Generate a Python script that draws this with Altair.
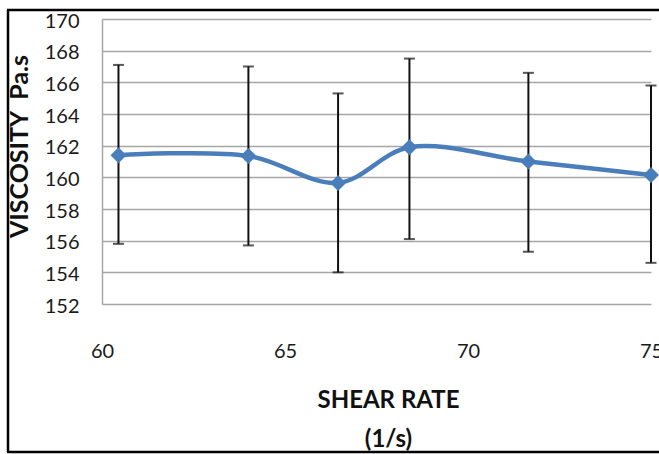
import altair as alt
import pandas as pd

# Data
shear_rate = [60.45, 64.0, 66.45, 68.4, 71.65, 75.0]
viscosity = [161.4, 161.35, 159.65, 161.9, 161.0, 160.15]
err_upper = [167.1, 167.0, 165.3, 167.5, 166.6, 165.8]
err_lower = [155.8, 155.7, 154.0, 156.1, 155.3, 154.6]
y_ticks = [152, 154, 156, 158, 160, 162, 164, 166, 168, 170]
x_ticks = [60, 65, 70, 75]

df = pd.DataFrame({
    "shear": shear_rate,
    "visc": viscosity,
    "upper": err_upper,
    "lower": err_lower,
})

FONT = "Lato"
BLUE = "#4A7EBB"
GRID = "#A6A6A6"

x_scale = alt.Scale(domain=[60, 75], nice=False, zero=False)
y_scale = alt.Scale(domain=[152, 170], nice=False, zero=False)

x_axis = alt.Axis(
    values=x_ticks, title=["SHEAR RATE", "(1/s)"], grid=False, domain=False,
    ticks=False, tickSize=0, labelPadding=37, labelFlush=False,
    labelFont=FONT, labelFontSize=20, labelColor="#1a1a1a",
    titleFont=FONT, titleFontSize=24, titleFontWeight="bold", titleColor="#111111",
    titleX=286, titleY=103, titleBaseline="alphabetic", titleAlign="center",
    titleLineHeight=39,
)
y_axis = alt.Axis(
    values=y_ticks, title="VISCOSITY\u00a0\u00a0Pa.s", grid=True, gridColor=GRID,
    gridWidth=1.5, domain=True, domainColor=GRID, domainWidth=1.5,
    ticks=False, tickSize=0, labelPadding=23, labelOffset=2,
    labelFont=FONT, labelFontSize=20, labelColor="#1a1a1a",
    titleFont=FONT, titleFontSize=25, titleFontWeight="bold", titleColor="#111111",
    titleX=-75, titleY=127, titleAngle=270, titleBaseline="alphabetic",
    titleAlign="center",
)

X = alt.X("shear:Q", scale=x_scale, axis=x_axis)
Y = alt.Y("visc:Q", scale=y_scale, axis=y_axis)

base = alt.Chart(df)

line = base.mark_line(color=BLUE, strokeWidth=4.5, interpolate="catmull-rom").encode(x=X, y=Y)

err_rule = base.mark_rule(color="#111111", strokeWidth=2).encode(
    x=X, y=alt.Y("lower:Q", scale=y_scale, axis=y_axis), y2="upper:Q"
)
cap_top = base.mark_tick(color="#111111", thickness=2, size=11, orient="horizontal").encode(
    x=X, y=alt.Y("upper:Q", scale=y_scale, axis=y_axis)
)
cap_bot = base.mark_tick(color="#111111", thickness=2, size=11, orient="horizontal").encode(
    x=X, y=alt.Y("lower:Q", scale=y_scale, axis=y_axis)
)
points = base.mark_point(shape="diamond", filled=True, size=256, color=BLUE, opacity=1).encode(x=X, y=Y)

frame_data = alt.Data(values=[{"k": 0}])
frame_top = alt.Chart(frame_data).mark_rule(color="#000000", strokeWidth=2.5).encode(
    x=alt.value(-95), x2=alt.value(700), y=alt.value(-9)
)
frame_left = alt.Chart(frame_data).mark_rule(color="#000000", strokeWidth=2.5).encode(
    x=alt.value(-94), y=alt.value(-9), y2=alt.value(433)
)
frame_bottom = alt.Chart(frame_data).mark_rule(color="#000000", strokeWidth=2.5).encode(
    x=alt.value(-95), x2=alt.value(700), y=alt.value(433)
)

chart = alt.layer(
    line, err_rule, cap_top, cap_bot, points, frame_top, frame_left, frame_bottom
).properties(
    width=549, height=285,
    autosize=alt.AutoSizeParams(type="none"),
    padding={"left": 102, "top": 19, "right": 8, "bottom": 150},
    background="white",
).configure_view(stroke=None)

chart.save("out.html", embed_options={"renderer": "svg", "actions": False})
